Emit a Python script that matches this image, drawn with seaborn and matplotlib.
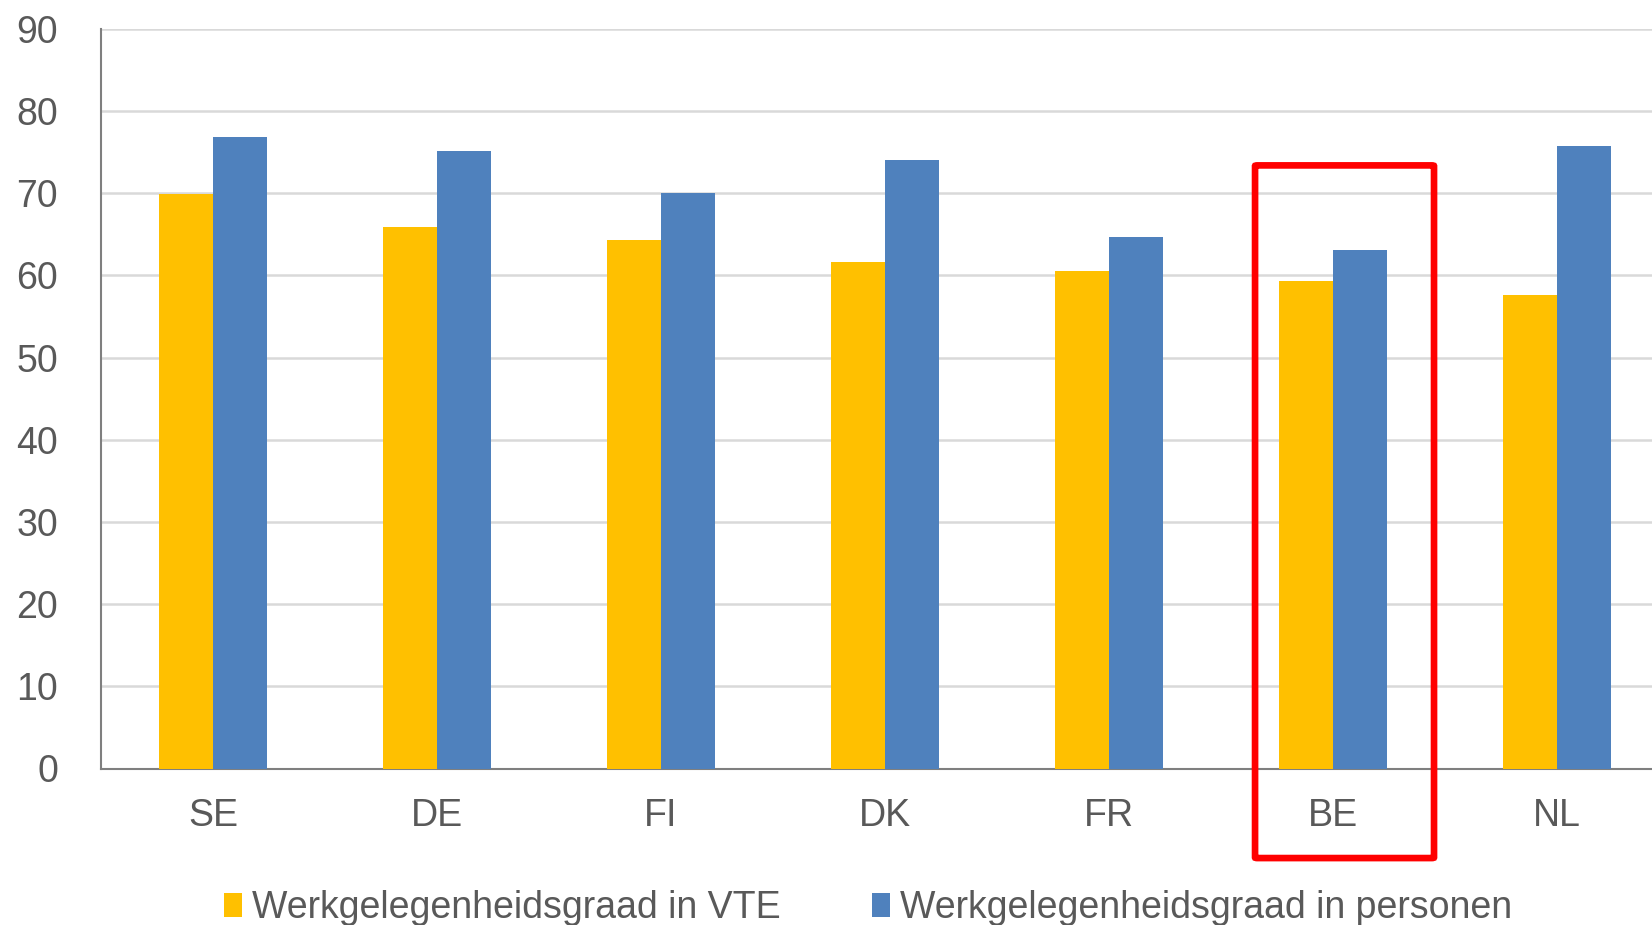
import matplotlib
matplotlib.use("Agg")
import matplotlib.pyplot as plt
import seaborn as sns
import pandas as pd
from matplotlib.patches import FancyBboxPatch, Patch

countries = ["SE", "DE", "FI", "DK", "FR", "BE", "NL"]
vte = [69.9, 65.9, 64.3, 61.6, 60.6, 59.3, 57.6]
personen = [76.9, 75.2, 70.0, 74.1, 64.7, 63.1, 75.8]
series_names = ["Werkgelegenheidsgraad in VTE", "Werkgelegenheidsgraad in personen"]
yticks = [0, 10, 20, 30, 40, 50, 60, 70, 80, 90]
colors = ["#FFC000", "#4F81BD"]

df = pd.DataFrame({
    "land": countries * 2,
    "waarde": vte + personen,
    "reeks": [series_names[0]] * len(countries) + [series_names[1]] * len(countries),
})

sns.set_theme(style="white")
plt.rcParams["font.family"] = ["Liberation Sans", "DejaVu Sans"]
text_color = "#595959"

fig = plt.figure(figsize=(16.52, 9.25), dpi=100)
ax = fig.add_axes([101 / 1652, 156.5 / 925, 1568 / 1652, 739.5 / 925])

sns.barplot(data=df, x="land", y="waarde", hue="reeks", order=countries,
            hue_order=series_names, palette=colors, width=0.478,
            saturation=1, ax=ax, legend=False, zorder=3, linewidth=0)

ax.set_ylim(0, 90)
ax.set_xlim(-0.5, len(countries) - 0.5)
ax.set_yticks(yticks)
ax.set_yticklabels([str(t) for t in yticks])
ax.yaxis.grid(True, color="#D9D9D9", linewidth=1.8, zorder=0)
ax.set_axisbelow(True)
ax.set_xlabel("")
ax.set_ylabel("")
for s in ["top", "right"]:
    ax.spines[s].set_visible(False)
for s in ["left", "bottom"]:
    ax.spines[s].set_color("#7F7F7F")
    ax.spines[s].set_linewidth(1.5)
ax.tick_params(axis="y", length=0, pad=31, labelsize=27, labelcolor=text_color)
ax.tick_params(axis="x", length=0, pad=21, labelsize=27, labelcolor=text_color)

# red highlight box around BE
be = countries.index("BE")
box = FancyBboxPatch((be - 0.348, -10.9), 0.799, 84.3,
                     boxstyle="round,pad=0,rounding_size=0.01",
                     transform=ax.transData, clip_on=False,
                     fill=False, edgecolor="#FF0000", linewidth=4.8, zorder=5,
                     mutation_aspect=8)
ax.add_patch(box)

handles = [Patch(facecolor=c, edgecolor="none") for c in colors]
fig.legend(handles, series_names, loc="center", bbox_to_anchor=(0.5254, 0.018),
           ncol=2, frameon=False, fontsize=27, labelcolor=text_color,
           handlelength=0.48, handleheight=0.62, handletextpad=0.25,
           columnspacing=2.45, borderpad=0, borderaxespad=0)

fig.savefig("out.png", dpi=100)
